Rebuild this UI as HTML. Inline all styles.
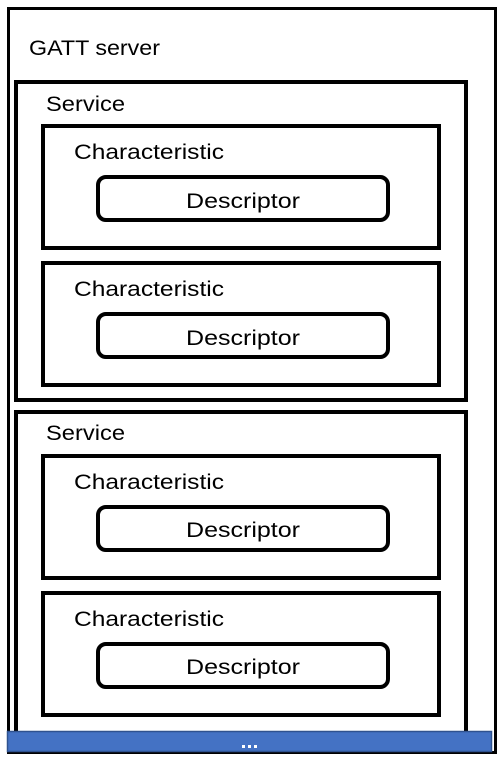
<!DOCTYPE html>
<html><head><style>html,body{margin:0;padding:0;background:#fff;}svg{display:block}</style></head>
<body>
<svg width="500" height="763" viewBox="0 0 500 763" xmlns="http://www.w3.org/2000/svg" font-family="Liberation Sans, sans-serif" font-size="21" fill="#000">
<rect x="8.5" y="8.5" width="487" height="744" fill="#fff" stroke="#000" stroke-width="3"/>
<text x="29" y="55" textLength="131" lengthAdjust="spacingAndGlyphs">GATT server</text>

<g fill="none" stroke="#000" stroke-width="4">
<rect x="16" y="82" width="450" height="318"/>
<rect x="43" y="126" width="396" height="122"/>
<rect x="98" y="177" width="290" height="43" rx="8"/>
<rect x="43" y="263" width="396" height="122"/>
<rect x="98" y="314" width="290" height="43" rx="8"/>
<rect x="16" y="412" width="450" height="340"/>
<rect x="43" y="456" width="396" height="122"/>
<rect x="98" y="507" width="290" height="43" rx="8"/>
<rect x="43" y="593" width="396" height="122"/>
<rect x="98" y="644" width="290" height="43" rx="8"/>
</g>

<text x="46" y="111" textLength="79" lengthAdjust="spacingAndGlyphs">Service</text>
<text x="74" y="159" textLength="150" lengthAdjust="spacingAndGlyphs">Characteristic</text>
<text x="186" y="208" textLength="114" lengthAdjust="spacingAndGlyphs">Descriptor</text>
<text x="74" y="296" textLength="150" lengthAdjust="spacingAndGlyphs">Characteristic</text>
<text x="186" y="345" textLength="114" lengthAdjust="spacingAndGlyphs">Descriptor</text>

<text x="46" y="440" textLength="79" lengthAdjust="spacingAndGlyphs">Service</text>
<text x="74" y="489" textLength="150" lengthAdjust="spacingAndGlyphs">Characteristic</text>
<text x="186" y="537" textLength="114" lengthAdjust="spacingAndGlyphs">Descriptor</text>
<text x="74" y="626" textLength="150" lengthAdjust="spacingAndGlyphs">Characteristic</text>
<text x="186" y="674" textLength="114" lengthAdjust="spacingAndGlyphs">Descriptor</text>

<rect x="7.5" y="731.5" width="484" height="20" fill="#4472C4" stroke="#2F528F" stroke-width="1.5"/>
<rect x="242" y="745" width="3" height="3" fill="#fff"/>
<rect x="248" y="745" width="3" height="3" fill="#fff"/>
<rect x="254" y="745" width="3" height="3" fill="#fff"/>
</svg>
</body></html>
